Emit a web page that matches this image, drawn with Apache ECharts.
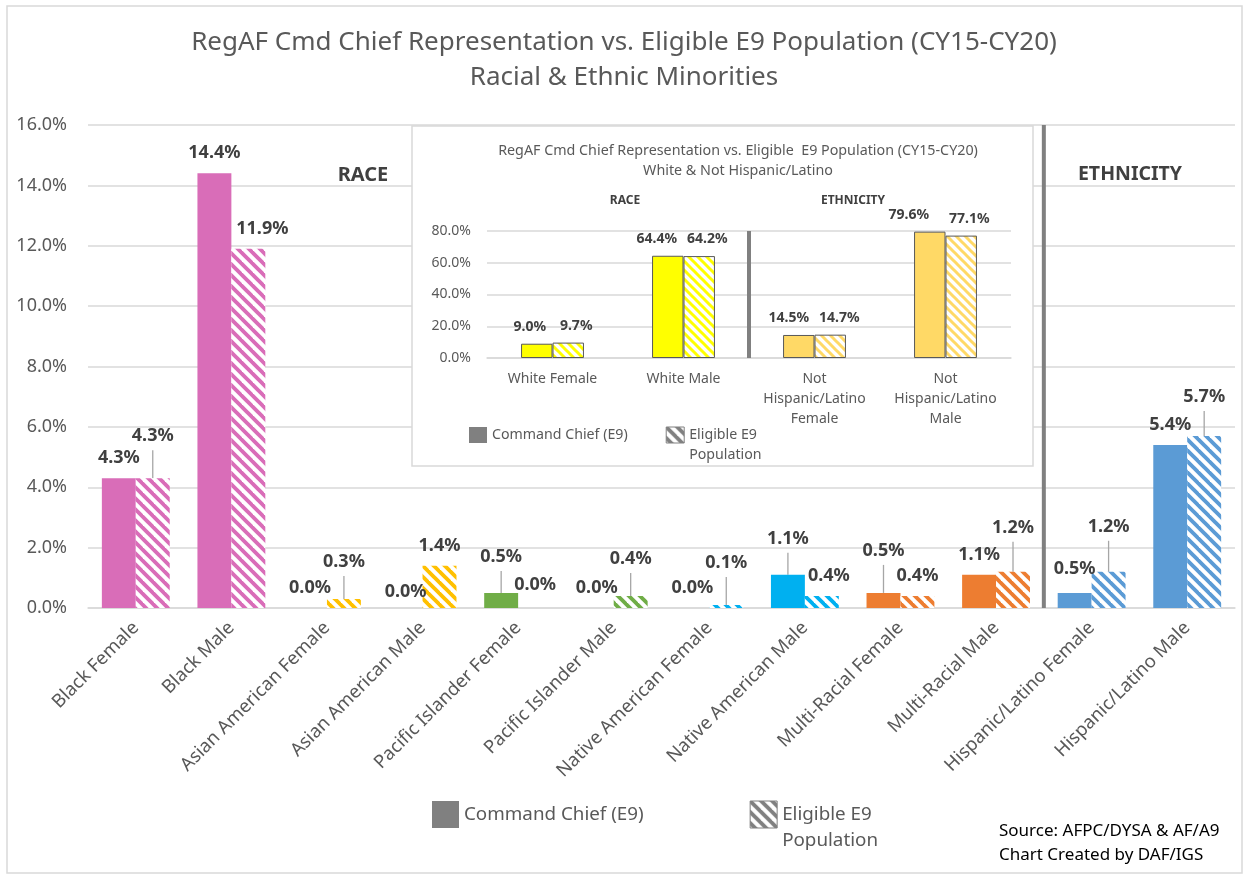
<!DOCTYPE html>
<html>
<head>
<meta charset="utf-8">
<title>RegAF Cmd Chief Representation vs. Eligible E9 Population</title>
<script src="https://cdn.jsdelivr.net/npm/echarts@6/dist/echarts.min.js"></script>
<style>
  html, body { margin: 0; padding: 0; background: #ffffff; }
  #chart { width: 1249px; height: 879px; }
</style>
</head>
<body>
<div id="chart"></div>
<script>
// ---- Main chart data: racial & ethnic minorities (percent) ----
const categories = [
  'Black Female', 'Black Male',
  'Asian American Female', 'Asian American Male',
  'Pacific Islander Female', 'Pacific Islander Male',
  'Native American Female', 'Native American Male',
  'Multi-Racial Female', 'Multi-Racial Male',
  'Hispanic/Latino Female', 'Hispanic/Latino Male'
];
const commandChief = [4.3, 14.4, 0.0, 0.0, 0.5, 0.0, 0.0, 1.1, 0.5, 1.1, 0.5, 5.4];
const eligibleE9   = [4.3, 11.9, 0.3, 1.4, 0.0, 0.4, 0.1, 0.4, 0.4, 1.2, 1.2, 5.7];
const mainAxisMax = 16;
const mainAxisStep = 2;

// ---- Inset data: white & not Hispanic/Latino (percent) ----
const insetCategories = [
  'White Female', 'White Male',
  'Not\nHispanic/Latino\nFemale', 'Not\nHispanic/Latino\nMale'
];
const insetCommandChief = [9.0, 64.4, 14.5, 79.6];
const insetEligible     = [9.7, 64.2, 14.7, 77.1];
const insetAxisMax = 80;
const insetAxisStep = 20;

const NAME_CC = 'Command Chief (E9)';
const NAME_E9 = 'Eligible E9 Population';

// Where the ethnicity block starts on each axis
const ethnicityStart = categories.indexOf('Hispanic/Latino Female');
const insetEthnicityStart = insetCategories.indexOf('Not\nHispanic/Latino\nFemale');

// ---- Styling ----
const FONT = '"Noto Sans", "DejaVu Sans", sans-serif';
const TEXT_GRAY = '#595959';
const LABEL_DARK = '#404040';
const GRID_GRAY = '#d9d9d9';

const categoryColors = [
  '#D96DB8', '#D96DB8',
  '#FFC000', '#FFC000',
  '#70AD47', '#70AD47',
  '#00B0F0', '#00B0F0',
  '#ED7D31', '#ED7D31',
  '#5B9BD5', '#5B9BD5'
];
const insetColors = ['#FFFF00', '#FFFF00', '#FFD966', '#FFD966'];

// Label nudges [dx, dy] so neighbouring value labels don't collide
const ccLabelShift = [[0,0],[0,0],[0,0],[0,4],[0,-16],[0,0],[0,0],[0,-16],[0,-22],[0,0],[0,-4],[0,0]];
const e9LabelShift = [[0,-22],[14,0],[0,-17],[0,0],[0,-3],[0,-17],[0,-22],[7,0],[0,0],[0,-24],[0,-25],[0,-19]];
const insetCcShift = [[-7,0],[-11,0],[-10,0],[-21,0]];
const insetE9Shift = [[8,0],[8,0],[9,0],[8,0]];

// Wide downward-diagonal hatch fill
const hatchCache = {};
function hatch(color, size, lineWidth) {
  const key = color + size + lineWidth;
  if (!hatchCache[key]) {
    const c = document.createElement('canvas');
    c.width = size; c.height = size;
    const g = c.getContext('2d');
    g.fillStyle = '#ffffff';
    g.fillRect(0, 0, size, size);
    g.strokeStyle = color;
    g.lineWidth = lineWidth;
    [-size, 0, size].forEach(function (o) {
      g.beginPath();
      g.moveTo(o - size, -size);
      g.lineTo(o + 2 * size, 2 * size);
      g.stroke();
    });
    hatchCache[key] = { image: c, repeat: 'repeat' };
  }
  return hatchCache[key];
}

const pct = function (p) { return Number(p.value).toFixed(1) + '%'; };
const leader = function (shift) { return shift[1] <= -10; };
// Two-line legend entry whose first line sits level with the swatch
const legendName = function (n) { return n === NAME_E9 ? '\u00a0\nEligible E9\nPopulation' : n; };

const mainLabel = {
  show: true, position: 'top', distance: 6,
  padding: [0, 0, 5, 0], backgroundColor: 'transparent',
  formatter: pct, fontFamily: FONT, fontSize: 18, fontWeight: 'bold', color: LABEL_DARK
};
const mainLabelLine = { show: false, lineStyle: { color: '#a6a6a6', width: 1.3 } };

const insetLabel = {
  show: true, position: 'top', distance: 10,
  formatter: pct, fontFamily: FONT, fontSize: 14, fontWeight: 'bold', color: LABEL_DARK
};

// Vertical divider drawn at the left boundary of a category band
function dividerItem(params, api) {
  const idx = api.value(0);
  const band = api.size([1, 0])[0];
  const x = api.coord([idx, 0])[0] - band / 2;
  const cs = params.coordSys;
  return {
    type: 'line',
    shape: { x1: x, y1: cs.y, x2: x, y2: cs.y + cs.height },
    style: { stroke: '#808080', lineWidth: 4 }
  };
}

const chart = echarts.init(document.getElementById('chart'), null, { renderer: 'canvas' });

const option = {
  backgroundColor: '#ffffff',
  animation: false,
  title: [
    {
      text: 'RegAF Cmd Chief Representation vs. Eligible E9 Population (CY15-CY20)\nRacial & Ethnic Minorities',
      left: 624, top: 25, padding: 0, textAlign: 'center', textVerticalAlign: 'top',
      textStyle: { fontFamily: FONT, fontSize: 26, lineHeight: 35, fontWeight: 'normal', color: TEXT_GRAY }
    },
    {
      text: 'RegAF Cmd Chief Representation vs. Eligible  E9 Population (CY15-CY20)\nWhite & Not Hispanic/Latino',
      left: 738, top: 141, padding: 0, textAlign: 'center', textVerticalAlign: 'top', z: 8,
      textStyle: { fontFamily: FONT, fontSize: 14.3, lineHeight: 20, fontWeight: 'normal', color: TEXT_GRAY }
    },
    {
      text: 'RACE', left: 363, top: 164, padding: 0, textAlign: 'center', textVerticalAlign: 'top',
      textStyle: { fontFamily: FONT, fontSize: 20, lineHeight: 22, fontWeight: 'bold', color: LABEL_DARK }
    },
    {
      text: 'ETHNICITY', left: 1130, top: 163, padding: 0, textAlign: 'center', textVerticalAlign: 'top',
      textStyle: { fontFamily: FONT, fontSize: 19.5, lineHeight: 22, fontWeight: 'bold', color: LABEL_DARK }
    },
    {
      text: 'RACE', left: 625, top: 193, padding: 0, textAlign: 'center', textVerticalAlign: 'top', z: 8,
      textStyle: { fontFamily: FONT, fontSize: 12, lineHeight: 16, fontWeight: 'bold', color: LABEL_DARK }
    },
    {
      text: 'ETHNICITY', left: 853, top: 193, padding: 0, textAlign: 'center', textVerticalAlign: 'top', z: 8,
      textStyle: { fontFamily: FONT, fontSize: 12, lineHeight: 16, fontWeight: 'bold', color: LABEL_DARK }
    },
    {
      text: 'Source: AFPC/DYSA & AF/A9\nChart Created by DAF/IGS',
      left: 999, top: 819, padding: 0, textAlign: 'left', textVerticalAlign: 'top',
      textStyle: { fontFamily: FONT, fontSize: 17, lineHeight: 24, fontWeight: 'normal', color: '#000000' }
    }
  ],
  graphic: [
    {
      type: 'rect', z: 0, silent: true,
      shape: { x: 7, y: 6, width: 1235, height: 867 },
      style: { fill: 'none', stroke: GRID_GRAY, lineWidth: 1.5 }
    },
    {
      type: 'rect', z: 1, silent: true,
      shape: { x: 412, y: 126, width: 621, height: 340 },
      style: { fill: '#ffffff', stroke: GRID_GRAY, lineWidth: 1.5 }
    }
  ],
  legend: [
    {
      left: 432, top: 775.5, padding: 0, orient: 'horizontal',
      itemWidth: 27, itemHeight: 27, itemGap: 106, selectedMode: false,
      textStyle: { fontFamily: FONT, fontSize: 18.8, lineHeight: 26, color: TEXT_GRAY },
      formatter: legendName,
      data: [
        { name: NAME_CC, icon: 'rect' },
        { name: NAME_E9, icon: 'rect', itemStyle: { borderColor: '#808080', borderWidth: 1 } }
      ]
    },
    {
      left: 469, top: 405, padding: 0, orient: 'horizontal', z: 8,
      itemWidth: 18, itemHeight: 16, itemGap: 38, selectedMode: false,
      textStyle: { fontFamily: FONT, fontSize: 14.2, lineHeight: 20, color: TEXT_GRAY },
      formatter: legendName,
      data: [
        { name: NAME_CC, icon: 'rect' },
        { name: NAME_E9, icon: 'rect', itemStyle: { borderColor: '#808080', borderWidth: 1 } }
      ]
    }
  ],
  grid: [
    { left: 88, right: 14, top: 125, bottom: 271, containLabel: false },
    { left: 487, right: 238, top: 231, bottom: 521, containLabel: false }
  ],
  xAxis: [
    {
      type: 'category', gridIndex: 0, data: categories,
      axisLine: { lineStyle: { color: GRID_GRAY, width: 1.5 } },
      axisTick: { show: false },
      axisLabel: { rotate: 45, margin: 17, interval: 0, fontFamily: FONT, fontSize: 18.5, color: TEXT_GRAY },
      splitLine: { show: false }
    },
    {
      type: 'category', gridIndex: 1, data: insetCategories, z: 2,
      axisLine: { lineStyle: { color: GRID_GRAY, width: 1.5 } },
      axisTick: { show: false },
      axisLabel: { margin: 11, interval: 0, fontFamily: FONT, fontSize: 14, lineHeight: 20, color: TEXT_GRAY },
      splitLine: { show: false }
    }
  ],
  yAxis: [
    {
      type: 'value', gridIndex: 0, min: 0, max: mainAxisMax, interval: mainAxisStep,
      axisLine: { show: false }, axisTick: { show: false },
      axisLabel: { margin: 21, fontFamily: FONT, fontSize: 18, color: TEXT_GRAY,
        formatter: function (v) { return v.toFixed(1) + '%'; } },
      splitLine: { lineStyle: { color: GRID_GRAY, width: 1.5 } }
    },
    {
      type: 'value', gridIndex: 1, min: 0, max: insetAxisMax, interval: insetAxisStep, z: 2,
      axisLine: { show: false }, axisTick: { show: false },
      axisLabel: { margin: 16, fontFamily: FONT, fontSize: 14, color: TEXT_GRAY,
        formatter: function (v) { return v.toFixed(1) + '%'; } },
      splitLine: { lineStyle: { color: GRID_GRAY, width: 1.5 } }
    }
  ],
  series: [
    {
      name: NAME_CC, type: 'bar', xAxisIndex: 0, yAxisIndex: 0,
      barGap: '0%', barCategoryGap: '29%',
      itemStyle: { color: '#808080' },
      label: mainLabel, labelLine: mainLabelLine,
      labelLayout: function (p) { const s = ccLabelShift[p.dataIndex]; return { dx: s[0], dy: s[1] }; },
      data: commandChief.map(function (v, i) {
        return { value: v, itemStyle: { color: categoryColors[i] }, labelLine: { show: leader(ccLabelShift[i]) } };
      })
    },
    {
      name: NAME_E9, type: 'bar', xAxisIndex: 0, yAxisIndex: 0,
      barGap: '0%', barCategoryGap: '29%',
      itemStyle: { color: hatch('#808080', 11, 3.8) },
      label: mainLabel, labelLine: mainLabelLine,
      labelLayout: function (p) { const s = e9LabelShift[p.dataIndex]; return { dx: s[0], dy: s[1] }; },
      data: eligibleE9.map(function (v, i) {
        return { value: v, itemStyle: { color: hatch(categoryColors[i], 11, 3.8) }, labelLine: { show: leader(e9LabelShift[i]) } };
      })
    },
    {
      type: 'custom', xAxisIndex: 0, yAxisIndex: 0, silent: true, z: 3,
      renderItem: dividerItem,
      data: [[ethnicityStart, 0]]
    },
    {
      name: NAME_CC, type: 'bar', xAxisIndex: 1, yAxisIndex: 1, z: 3,
      barGap: '0%', barCategoryGap: '52%',
      itemStyle: { color: '#808080', borderColor: TEXT_GRAY, borderWidth: 1 },
      label: insetLabel,
      labelLayout: function (p) { const s = insetCcShift[p.dataIndex]; return { dx: s[0], dy: s[1] }; },
      data: insetCommandChief.map(function (v, i) {
        return { value: v, itemStyle: { color: insetColors[i] } };
      })
    },
    {
      name: NAME_E9, type: 'bar', xAxisIndex: 1, yAxisIndex: 1, z: 3,
      barGap: '0%', barCategoryGap: '52%',
      itemStyle: { color: hatch('#808080', 9, 3), borderColor: TEXT_GRAY, borderWidth: 1 },
      label: insetLabel,
      labelLayout: function (p) { const s = insetE9Shift[p.dataIndex]; return { dx: s[0], dy: s[1] }; },
      data: insetEligible.map(function (v, i) {
        return { value: v, itemStyle: { color: hatch(insetColors[i], 9, 3) } };
      })
    },
    {
      type: 'custom', xAxisIndex: 1, yAxisIndex: 1, silent: true, z: 4,
      renderItem: dividerItem,
      data: [[insetEthnicityStart, 0]]
    }
  ]
};

chart.setOption(option);
</script>
</body>
</html>
